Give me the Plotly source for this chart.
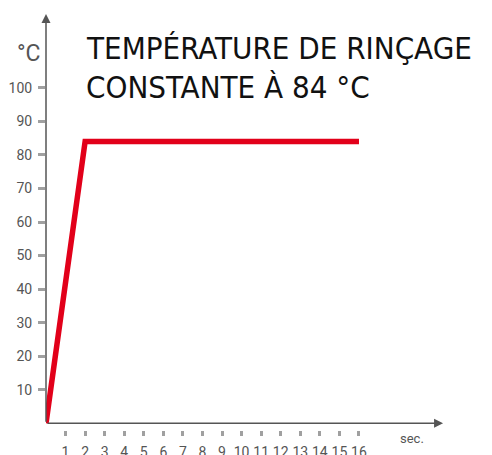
import plotly.graph_objects as go

# temps (s) / température (°C)
SECONDES = [0, 2, 16]
TEMPERATURE = [0, 84, 84]

X_TICKS = list(range(1, 17))
Y_TICKS = [10, 20, 30, 40, 50, 60, 70, 80, 90, 100]

TITRE_1 = "TEMPÉRATURE DE RINÇAGE"
TITRE_2 = "CONSTANTE À 84 °C"

ROUGE = "#e2001a"
GRIS_AXE = "#555555"
GRIS_TICK = "#a0a0a0"
GRIS_TEXTE = "#555555"

W, H = 492, 455
DECALAGE = 8  # marge par défaut du <body>
L, R, T, B = 46 - DECALAGE, 53, 14 - DECALAGE, 33


def px(xp, yp):
    # pixels écran -> coordonnées papier
    xp, yp = xp - DECALAGE, yp - DECALAGE
    return (xp - L) / (W - L - R), 1 - (yp - T) / (H - T - B)


fig = go.Figure()

fig.add_trace(go.Scatter(
    x=SECONDES, y=TEMPERATURE,
    mode="lines",
    line=dict(color=ROUGE, width=5.5),
    cliponaxis=False,
    showlegend=False,
    hoverinfo="skip",
))

# axes fléchés
fig.add_annotation(x=20.3, y=0, ax=0, ay=0, xref="x", yref="y", axref="x", ayref="y",
                   text="", showarrow=True, arrowhead=2, arrowsize=1.2,
                   arrowwidth=1.5, arrowcolor=GRIS_AXE)
fig.add_annotation(x=0, y=122, ax=0, ay=0, xref="x", yref="y", axref="x", ayref="y",
                   text="", showarrow=True, arrowhead=2, arrowsize=1.2,
                   arrowwidth=1.5, arrowcolor=GRIS_AXE)

x, y = px(398, 438)
fig.add_annotation(x=x, y=y, xref="paper", yref="paper", xanchor="left", yanchor="middle",
                   text="sec.", showarrow=False, font=dict(size=13, color=GRIS_TEXTE))
x, y = px(43, 53)
fig.add_annotation(x=x, y=y, xref="paper", yref="paper", xanchor="right", yanchor="middle",
                   text="°C", showarrow=False, font=dict(size=23, color=GRIS_TEXTE))

x, y = px(84, 48)
fig.add_annotation(x=x, y=y, xref="paper", yref="paper", xanchor="left", yanchor="middle",
                   text=TITRE_1, showarrow=False,
                   font=dict(family="DejaVu Sans Condensed", size=31, color="#111111"))
x, y = px(84, 87)
fig.add_annotation(x=x, y=y, xref="paper", yref="paper", xanchor="left", yanchor="middle",
                   text=TITRE_2, showarrow=False,
                   font=dict(family="DejaVu Sans Condensed", size=31, color="#111111"))

fig.update_layout(
    width=W, height=H,
    margin=dict(l=L, r=R, t=T, b=B),
    paper_bgcolor="white", plot_bgcolor="white",
    font=dict(family="Roboto", color=GRIS_TEXTE),
)

fig.update_xaxes(
    range=[0, 20.5], showgrid=False, zeroline=False, showline=False, automargin=False,
    tickvals=X_TICKS, ticks="outside", ticklen=5, tickwidth=3, tickcolor=GRIS_TICK,
    tickfont=dict(size=14, color=GRIS_TEXTE), ticklabelstandoff=4,
)
fig.update_yaxes(
    range=[-2, 122], showgrid=False, zeroline=False, showline=False, automargin=False,
    tickvals=Y_TICKS, ticks="outside", ticklen=7, tickwidth=3, tickcolor=GRIS_TICK,
    tickfont=dict(size=14, color=GRIS_TEXTE), ticklabelstandoff=3,
)

fig.write_html("out.html")
